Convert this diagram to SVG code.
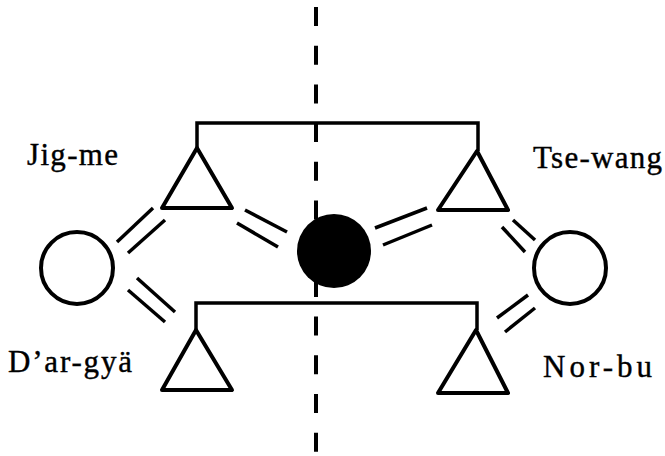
<svg xmlns="http://www.w3.org/2000/svg" width="665" height="456" viewBox="0 0 665 456">
<style>
.ln{stroke:#000;stroke-width:3.5;fill:none;stroke-linecap:butt}
.dl{stroke:#000;stroke-width:3.5;fill:none}
.tri{stroke:#000;stroke-width:4;fill:#fff;stroke-linejoin:round}
.cir{stroke:#000;stroke-width:4;fill:#fff}
.lbl{font-family:"Liberation Serif","Times New Roman",serif;font-size:31px;fill:#000;stroke:#000;stroke-width:0.4}
</style>
<rect width="665" height="456" fill="#fff"/>
<g id="axis">
<line x1="316" y1="7" x2="316" y2="456" stroke="#000" stroke-width="4" stroke-dasharray="19 19.7"/>
</g>
<g id="connectors">
<polyline class="ln" points="197,148 197,123 478,123 478,151"/>
<polyline class="ln" points="196,330 196,303 477,303 477,330"/>
<line class="dl" x1="117" y1="242" x2="153" y2="208"/>
<line class="dl" x1="128" y1="253" x2="165" y2="220"/>
<line class="dl" x1="245" y1="210" x2="287" y2="232"/>
<line class="dl" x1="237" y1="223" x2="278" y2="247"/>
<line class="dl" x1="137" y1="278" x2="175" y2="312"/>
<line class="dl" x1="128" y1="290" x2="165" y2="322"/>
<line class="dl" x1="375" y1="228" x2="427" y2="208"/>
<line class="dl" x1="383" y1="245" x2="432" y2="225"/>
<line class="dl" x1="502" y1="227" x2="525" y2="252"/>
<line class="dl" x1="513" y1="220" x2="535" y2="240"/>
<line class="dl" x1="497" y1="318" x2="528" y2="295"/>
<line class="dl" x1="505" y1="332" x2="535" y2="308"/>
</g>
<g id="jigme">
<polygon class="tri" points="197,148 232,208 162,208"/>
<text class="lbl" x="27" y="165" textLength="91" lengthAdjust="spacing">Jig-me</text>
</g>
<g id="tsewang">
<polygon class="tri" points="477,151 508,210 438,210"/>
<text class="lbl" x="533" y="168" textLength="129" lengthAdjust="spacing">Tse-wang</text>
</g>
<g id="dargya">
<polygon class="tri" points="196,330 232,390 162,390"/>
<text class="lbl" x="8" y="372" textLength="124" lengthAdjust="spacing">D’ar-gyä</text>
</g>
<g id="norbu">
<polygon class="tri" points="476,330 508,393 438,393"/>
<text class="lbl" x="543" y="377" textLength="109" lengthAdjust="spacing">Nor-bu</text>
</g>
<g id="wife-left">
<circle class="cir" cx="77" cy="268" r="36"/>
</g>
<g id="wife-right">
<circle class="cir" cx="570" cy="268" r="36"/>
</g>
<g id="ego">
<circle cx="334" cy="251" r="37" fill="#000"/>
</g>
</svg>
